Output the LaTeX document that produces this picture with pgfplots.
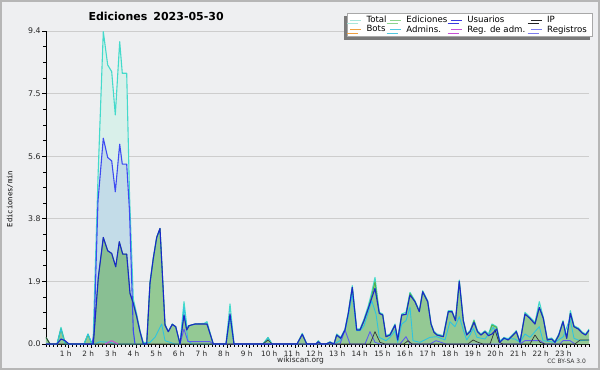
\documentclass[border=0pt]{standalone}
\usepackage{fontspec}
\setmainfont{DejaVu Sans}
\newfontfamily\monofont{DejaVu Sans Mono}
\usepackage{pgfplots}
\pgfplotsset{compat=1.18}
\usepackage{pgfplotstable}
\usetikzlibrary{shadows}

\definecolor{bgcol}{HTML}{EEEFF1}
\definecolor{framecol}{HTML}{B6B6B6}
\definecolor{gridcol}{HTML}{CDCDCD}
\definecolor{tfill}{HTML}{D9F0EA}
\definecolor{tline}{HTML}{44DACB}
\definecolor{bfill}{HTML}{C3DCE8}
\definecolor{bline}{HTML}{3E4BF2}
\definecolor{gfill}{RGB}{80,163,63}
\definecolor{gline}{HTML}{4DB24D}
\definecolor{dline}{HTML}{1A28C8}
\definecolor{acol}{HTML}{2EC4E0}
\definecolor{ipcol}{HTML}{333333}
\definecolor{rcol}{HTML}{5C5CEE}
\definecolor{mcol}{HTML}{C848D8}
\definecolor{legtotal}{HTML}{A8E6DC}
\definecolor{legedit}{HTML}{8CD48C}
\definecolor{leguser}{HTML}{3A3AE0}
\definecolor{legip}{HTML}{222222}
\definecolor{legbot}{HTML}{F0A040}
\definecolor{legadm}{HTML}{50C8E0}
\definecolor{legreg}{HTML}{C850D8}
\definecolor{leglog}{HTML}{7C7CF0}
\definecolor{legframe}{HTML}{A8A8A8}
\definecolor{shadowcol}{HTML}{7A7A7A}

% Total
\pgfplotstableread{
px v
46 0.2
50 0
57 0
61 0.5
65 0.05
69 0
84 0
88 0.3
92 0
93 0
98 5.0
103.3 9.38
107.7 8.38
111.7 8.18
115.3 6.88
119.7 9.08
122.3 8.13
126.7 8.13
129.5 4.5
133.3 1.35
136.7 0.9
140 0.4
143.3 0.05
146.7 0.05
150 1.85
153.3 2.6
156.7 3.2
160 3.47
165 0.6
168.3 0.37
172.3 0.6
175.7 0.52
180 0
184 1.27
187 0.5
189 0.55
195 0.6
204.3 0.62
207 0.67
213.3 0
226 0
230 1.2
234 0
263 0
268 0.2
272 0
297 0
302.3 0.32
306.7 0
316 0
318.3 0.1
321 0
326 0
330 0.07
334 0
336.7 0.3
340.7 0.2
345 0.45
348.3 0.95
352.3 1.75
356.7 0.45
360 0.45
364 0.75
368.3 1.15
371.7 1.55
375 2.0
379.3 0.95
382.7 0.9
386 0.25
390 0.3
395 0.6
397.7 0.15
401.7 0.9
406 0.95
410 1.55
415 1.3
419.3 1.0
422.7 1.6
427.7 1.3
431 0.62
434 0.38
437 0.3
443.3 0.25
448.3 1.0
452 1.0
455.5 0.72
459.3 1.92
463.3 0.72
466.7 0.3
470 0.4
474 0.72
477.5 0.4
481 0.3
485 0.4
488.5 0.3
492 0.6
496.7 0.52
499.8 0.08
504 0.2
508 0.15
512.5 0.28
516.3 0.4
520 0.07
525 0.95
529.6 0.82
535 0.65
539.3 1.27
543.3 0.8
547.3 0.15
551.7 0.18
555 0.08
558.8 0.3
563 0.7
566.7 0.2
570.4 1.0
574 0.55
578.3 0.48
582.2 0.36
585.5 0.3
589.3 0.45
}\tT

% bright blue series (peak hours)
\pgfplotstableread{
px v
92 0
94 0.3
98 4.3
103.3 6.18
107.7 5.6
111.7 5.5
115.3 4.57
119.7 6.0
122.3 5.4
126.7 5.4
129.5 4.0
133.3 0.4
135 0
}\tB

% Ediciones (green area)
\pgfplotstableread{
px v
46 0.2
50 0
57 0
61 0.45
65 0.05
69 0
84 0
88 0.28
92 0
93.3 0
98.3 2.0
103.3 3.2
107.7 2.8
111.7 2.72
115.7 2.32
119.3 3.07
122.7 2.7
126.7 2.7
130 1.52
133.3 1.22
136.7 0.82
140 0.37
143.3 0
146.7 0
150 1.83
153.3 2.57
156.7 3.2
160 3.47
165 0.57
168.3 0.37
172.3 0.59
175.7 0.52
180 0
184 0.87
186.7 0.42
189 0.55
195 0.6
204.3 0.6
207 0.6
213.3 0
226 0
230 0.85
234 0
263 0
268 0.18
272 0
297 0
302.3 0.29
306.7 0
316 0
318.3 0.07
321 0
326 0
330 0.05
334 0
336.7 0.27
340.7 0.17
345 0.42
348.3 0.92
352.3 1.7
356.7 0.42
360 0.42
364 0.7
368.3 1.07
371.7 1.45
375 1.87
379.3 0.92
382.7 0.87
386 0.22
390 0.27
395 0.57
397.7 0.12
401.7 0.87
406 0.89
410 1.52
415 1.27
419.3 0.97
422.7 1.57
427.7 1.27
431 0.6
434 0.35
437 0.27
443.3 0.22
448.3 0.97
452 0.97
455.5 0.7
459.3 1.88
463.3 0.7
466.7 0.27
470 0.37
474 0.7
477.5 0.37
481 0.27
485 0.37
488.5 0.25
492 0.57
496.7 0.5
499.8 0.05
504 0.18
508 0.12
512.5 0.25
516.3 0.37
520 0.05
525 0.9
529.6 0.78
535 0.6
539.3 1.1
543.3 0.77
547.3 0.12
551.7 0.15
555 0.05
558.8 0.27
563 0.67
566.7 0.17
570.4 0.92
574 0.52
578.3 0.45
582.2 0.33
585.5 0.27
589.3 0.42
}\tG

% Usuarios (dark blue line)
\pgfplotstableread{
px v
46 0
57 0
61 0.15
65 0.1
69 0
93.3 0
98.3 2.0
103.3 3.2
107.7 2.8
111.7 2.72
115.7 2.32
119.3 3.07
122.7 2.7
126.7 2.7
130 1.52
133.3 1.22
136.7 0.82
140 0.37
143.3 0
146.7 0
150 1.83
153.3 2.57
156.7 3.2
160 3.47
165 0.57
168.3 0.37
172.3 0.59
175.7 0.52
180 0
184 0.87
186.7 0.42
189 0.55
195 0.6
204.3 0.6
207 0.6
213.3 0
226 0
230 0.9
234 0
297 0
302.3 0.29
306.7 0
316 0
318.3 0.07
321 0
326 0
330 0.05
334 0
336.7 0.27
340.7 0.17
345 0.42
348.3 0.92
352.3 1.7
356.7 0.42
360 0.42
364 0.7
368.3 1.07
371.7 1.37
375 1.67
379.3 0.92
382.7 0.87
386 0.22
390 0.27
395 0.57
397.7 0.12
401.7 0.87
406 0.89
410 1.47
415 1.27
419.3 0.97
422.7 1.57
427.7 1.27
431 0.6
434 0.35
437 0.27
443.3 0.22
448.3 0.97
452 0.97
455.5 0.7
459.3 1.88
463.3 0.7
466.7 0.27
470 0.37
474 0.65
477.5 0.37
481 0.27
485 0.37
488.5 0.25
492 0.3
496.7 0.45
499.8 0.05
504 0.18
508 0.12
512.5 0.25
516.3 0.37
520 0.05
525 0.9
529.6 0.78
535 0.6
539.3 1.1
543.3 0.77
547.3 0.12
551.7 0.15
555 0.05
558.8 0.27
563 0.67
566.7 0.17
570.4 0.92
574 0.52
578.3 0.45
582.2 0.33
585.5 0.27
589.3 0.42
}\tD

% Admins (cyan)
\pgfplotstableread{
px v
57 0
61 0.45
65 0
84 0
88 0.3
92 0
95 0
100 0.07
110 0.05
115 0
143 0
150 0.05
155 0.2
161.7 0.6
165 0.1
170 0.05
175 0
180 0
184 1.1
188 0.1
192 0
226 0
230 0.8
234 0
263 0
268 0.18
272 0
334 0
340 0.1
345 0.4
348.3 0.85
352.3 1.5
356.7 0.4
360 0.4
364 0.55
368.3 0.95
371.7 1.3
376 0.9
379.3 0.2
386 0.1
390 0.2
395 0.4
397.7 0.05
401.7 0.6
406 0.7
410 1.1
413 0.1
420 0.05
430 0.2
436.7 0.22
445 0.12
450 0.67
455 0.52
459.3 0.82
463.3 0.42
466.7 0.12
470 0.27
473.3 0.47
477 0.2
485 0.15
493.3 0.5
500 0.1
506.7 0.17
515 0.15
520 0.05
525 0.3
530 0.2
539.3 0.52
543 0.1
555 0.05
563.3 0.22
570 0.77
574 0.17
580 0.1
589 0.12
}\tA

% IP (dark)
\pgfplotstableread{
px v
46 0.2
50 0
263 0
268 0.12
272 0
370 0
375 0.37
380 0.05
385 0
404 0
408 0.1
412 0
468 0
473 0.12
478 0.05
483 0
490 0
495 0.42
499 0.05
503 0
530 0
535 0.27
540 0.05
545 0
575 0
580 0.12
589 0.12
}\tIP

% Registros (purple blue)
\pgfplotstableread{
px v
180 0
184 0.45
188 0.07
210 0.07
213 0
340 0
345 0.42
350 0
365 0
370 0.37
375 0.05
380 0
400 0
406 0.22
410 0
430 0
436 0.1
441 0.05
446 0
520 0
525 0.1
540 0.1
545 0
560 0
563 0.1
570 0.1
575 0
}\tR

% Reg. de adm. (magenta)
\pgfplotstableread{
px v
105 0
111.7 0.1
118 0
}\tM

\begin{document}
\begin{tikzpicture}
\fill[bgcol] (0pt,0pt) rectangle (600pt,370pt);
\draw[framecol, line width=2pt] (1pt,1pt) rectangle (599pt,369pt);

\begin{axis}[
  at={(46pt,26pt)}, anchor=south west,
  scale only axis, width=543pt, height=313pt,
  xmin=0, xmax=24, ymin=0, ymax=9.4,
  axis x line*=bottom, axis y line*=left,
  axis line style={black, line width=0.8pt, -},
  xtick={1,2,...,23},
  xticklabels={1 h,2 h,3 h,4 h,5 h,6 h,7 h,8 h,9 h,10 h,11 h,12 h,13 h,14 h,15 h,16 h,17 h,18 h,19 h,20 h,21 h,22 h,23 h},
  minor xtick={0,0.1666667,...,24.01},
  ytick={0,1.88,3.76,5.64,7.52,9.4},
  yticklabels={0.0,1.9,3.8,5.6,7.5,9.4},
  minor ytick={0.47,0.94,1.41,2.35,2.82,3.29,4.23,4.70,5.17,6.11,6.58,7.05,7.99,8.46,8.93},
  tick align=outside,
  major tick length=3.5pt, minor tick length=2.5pt,
  tick style={black, line width=0.6pt},
  ymajorgrids, grid style={gridcol, line width=0.8pt},
  ticklabel style={font=\fontsize{7.3}{8}\selectfont, text=black!85},
  /pgf/number format/assume math mode=true,
  xticklabel style={xshift=-3pt, yshift=0.5pt},
  yticklabel style={xshift=1.5pt, font=\fontsize{7.8}{8}\selectfont},
  legend columns=4,
  legend cell align=left,
  legend image code/.code={\draw[#1] (0pt,0pt) -- (11pt,0pt);},
  legend style={at={(rel axis cs:1,1)}, anchor=north east, xshift=4pt, yshift=18.3pt,
    fill=white, draw=legframe, line width=0.6pt,
    font=\fontsize{8.6}{9}\selectfont,
    inner xsep=2.5pt, inner ysep=2pt, row sep=-0.5pt, column sep=0pt,
    nodes={inner sep=1pt},
    drop shadow={shadow xshift=-3pt, shadow yshift=-3.5pt, fill=shadowcol, opacity=1}},
]
\addlegendimage{legtotal, line width=0.9pt}
\addlegendentry{\hspace{4pt}\makebox[22pt][l]{Total}}
\addlegendimage{legedit, line width=0.9pt}
\addlegendentry{\hspace{4pt}\makebox[43pt][l]{Ediciones}}
\addlegendimage{leguser, line width=0.9pt}
\addlegendentry{\hspace{4pt}\makebox[62pt][l]{Usuarios}}
\addlegendimage{legip, line width=0.9pt}
\addlegendentry{\hspace{4pt}\makebox[42pt][l]{IP}}
\addlegendimage{legbot, line width=0.9pt}
\addlegendentry{\hspace{4pt}\makebox[22pt][l]{Bots}}
\addlegendimage{legadm, line width=0.9pt}
\addlegendentry{\hspace{4pt}\makebox[43pt][l]{Admins.}}
\addlegendimage{legreg, line width=0.9pt}
\addlegendentry{\hspace{4pt}\makebox[62pt][l]{Reg. de adm.}}
\addlegendimage{leglog, line width=0.9pt}
\addlegendentry{\hspace{4pt}\makebox[42pt][l]{Registros}}

% fills
\addplot[forget plot, draw=none, fill=tfill] table[x expr={(\thisrow{px}-46)/22.625}, y=v] {\tT} \closedcycle;
\addplot[forget plot, draw=none, fill=bfill] table[x expr={(\thisrow{px}-46)/22.625}, y=v] {\tB} \closedcycle;
\addplot[forget plot, draw=none, fill=gfill, fill opacity=0.5] table[x expr={(\thisrow{px}-46)/22.625}, y=v] {\tG} \closedcycle;
% lines
\addplot[forget plot, tline, line width=1.1pt, line join=round] table[x expr={(\thisrow{px}-46)/22.625}, y=v] {\tT};
\addplot[forget plot, bline, line width=1.1pt, line join=round] table[x expr={(\thisrow{px}-46)/22.625}, y=v] {\tB};
\addplot[forget plot, gline, line width=0.9pt, line join=round] table[x expr={(\thisrow{px}-46)/22.625}, y=v] {\tG};
\addplot[forget plot, acol, line width=0.9pt, line join=round] table[x expr={(\thisrow{px}-46)/22.625}, y=v] {\tA};
\addplot[forget plot, rcol, line width=0.9pt, line join=round] table[x expr={(\thisrow{px}-46)/22.625}, y=v] {\tR};
\addplot[forget plot, ipcol, line width=0.7pt, line join=round] table[x expr={(\thisrow{px}-46)/22.625}, y=v] {\tIP};
\addplot[forget plot, mcol, line width=0.9pt, line join=round] table[x expr={(\thisrow{px}-46)/22.625}, y=v] {\tM};
\addplot[forget plot, dline, line width=1.1pt, line join=round] table[x expr={(\thisrow{px}-46)/22.625}, y=v] {\tD};
\end{axis}

\node[anchor=base west, font=\fontsize{11}{12}\selectfont\bfseries] at (85pt,349pt) {Ediciones\hspace{6pt}2023-05-30};
\node[rotate=90, font=\monofont\fontsize{7.2}{8}\selectfont] at (10pt,171pt) {Ediciones/min};
\node[font=\fontsize{7.5}{8}\selectfont, text=black!85] at (300.5pt,9.5pt) {wikiscan.org};
\node[anchor=east, font=\fontsize{6}{7}\selectfont, text=black!80] at (589.5pt,8.5pt) {CC BY-SA 3.0};
\end{tikzpicture}
\end{document}
